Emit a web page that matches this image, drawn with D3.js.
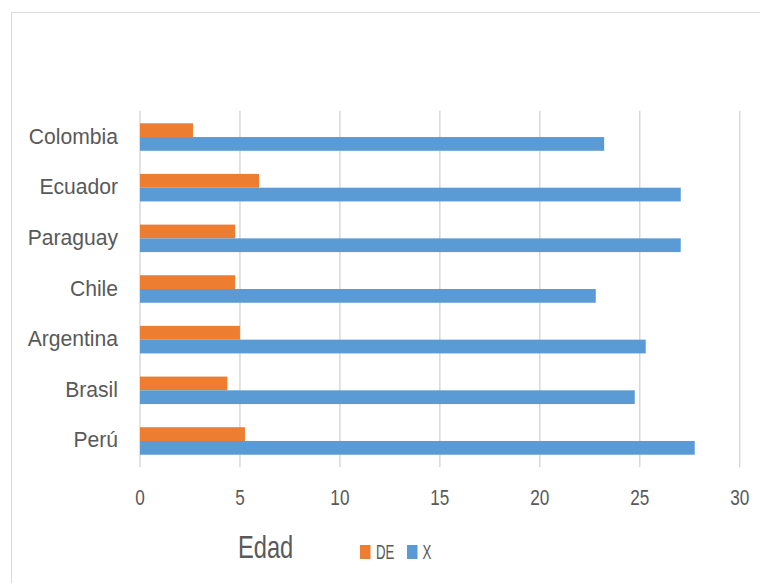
<!DOCTYPE html>
<html>
<head>
<meta charset="utf-8">
<script src="https://cdn.jsdelivr.net/npm/d3@7"></script>
<style>
  html, body { margin: 0; padding: 0; background: #fff; }
  svg { display: block; }
  text { font-family: "Liberation Sans", Arial, sans-serif; fill: #595959; }
</style>
</head>
<body>
<svg id="chart" width="760" height="583"></svg>
<script>
// Data (Excel order: first category drawn at the bottom)
const categories = ["Perú", "Brasil", "Argentina", "Chile", "Paraguay", "Ecuador", "Colombia"];
const seriesNames = ["DE", "X"];
const deValues = [5.25, 4.37, 5.0, 4.76, 4.76, 5.96, 2.65];
const xValues  = [27.75, 24.75, 25.3, 22.8, 27.05, 27.05, 23.22];
const xTicks = [0, 5, 10, 15, 20, 25, 30];
const axisTitle = "Edad";
const colors = { DE: "#ED7D31", X: "#5B9BD5" };

const rows = categories.map((c, i) => ({ cat: c, DE: deValues[i], X: xValues[i] }));

const svg = d3.select("#chart");

// chart-area border (extends beyond the window on right/bottom)
svg.append("rect")
  .attr("x", 11.5).attr("y", 12.5).attr("width", 800).attr("height", 700)
  .attr("fill", "none").attr("stroke", "#d9d9d9").attr("stroke-width", 1);

const plot = { left: 140, right: 739.7, top: 111.7, bottom: 466.3 };

const x = d3.scaleLinear().domain([0, 30]).range([plot.left, plot.right]);
const y = d3.scaleBand()
  .domain(categories.slice().reverse())
  .range([plot.top, plot.bottom])
  .paddingInner(0.457)
  .paddingOuter(0.2285);
const ySub = d3.scaleBand().domain(seriesNames).range([0, y.bandwidth()]);

// gridlines
svg.append("g").selectAll("line")
  .data(xTicks)
  .join("line")
  .attr("x1", d => x(d)).attr("x2", d => x(d))
  .attr("y1", plot.top - 1).attr("y2", plot.bottom + 1)
  .attr("stroke", "#d9d9d9").attr("stroke-width", 1.5);

// bars
const groups = svg.append("g").selectAll("g")
  .data(rows)
  .join("g")
  .attr("transform", d => `translate(0,${y(d.cat)})`);

groups.selectAll("rect")
  .data(d => seriesNames.map(s => ({ s, v: d[s] })))
  .join("rect")
  .attr("x", x(0))
  .attr("y", d => ySub(d.s))
  .attr("width", d => x(d.v) - x(0))
  .attr("height", ySub.bandwidth())
  .attr("fill", d => colors[d.s]);

// helper to place horizontally-compressed text
function label(parent, tx, ty, str, size, sx, anchor) {
  const g = parent.append("g").attr("transform", `translate(${tx},${ty}) scale(${sx},1)`);
  g.append("text").attr("font-size", size).attr("text-anchor", anchor || "start").text(str);
  return g;
}

// category labels
const catG = svg.append("g");
categories.forEach(c => {
  label(catG, 118, y(c) + y.bandwidth() / 2 + 6.5, c, 22, 0.96, "end");
});

// x tick labels
const tickG = svg.append("g");
xTicks.forEach(t => {
  label(tickG, x(t), 505, String(t), 22, 0.78, "middle");
});

// axis title
label(svg, 238, 558, axisTitle, 32, 0.74, "start");

// legend
const leg = svg.append("g");
const legendItems = [
  { name: "DE", sx: 360, tx: 376 },
  { name: "X", sx: 407, tx: 422.5 }
];
legendItems.forEach(it => {
  leg.append("rect").attr("x", it.sx).attr("y", 545).attr("width", 10.5).attr("height", 14)
    .attr("fill", colors[it.name]);
  label(leg, it.tx, 558.5, it.name, 19.5, 0.68, "start");
});
</script>
</body>
</html>
